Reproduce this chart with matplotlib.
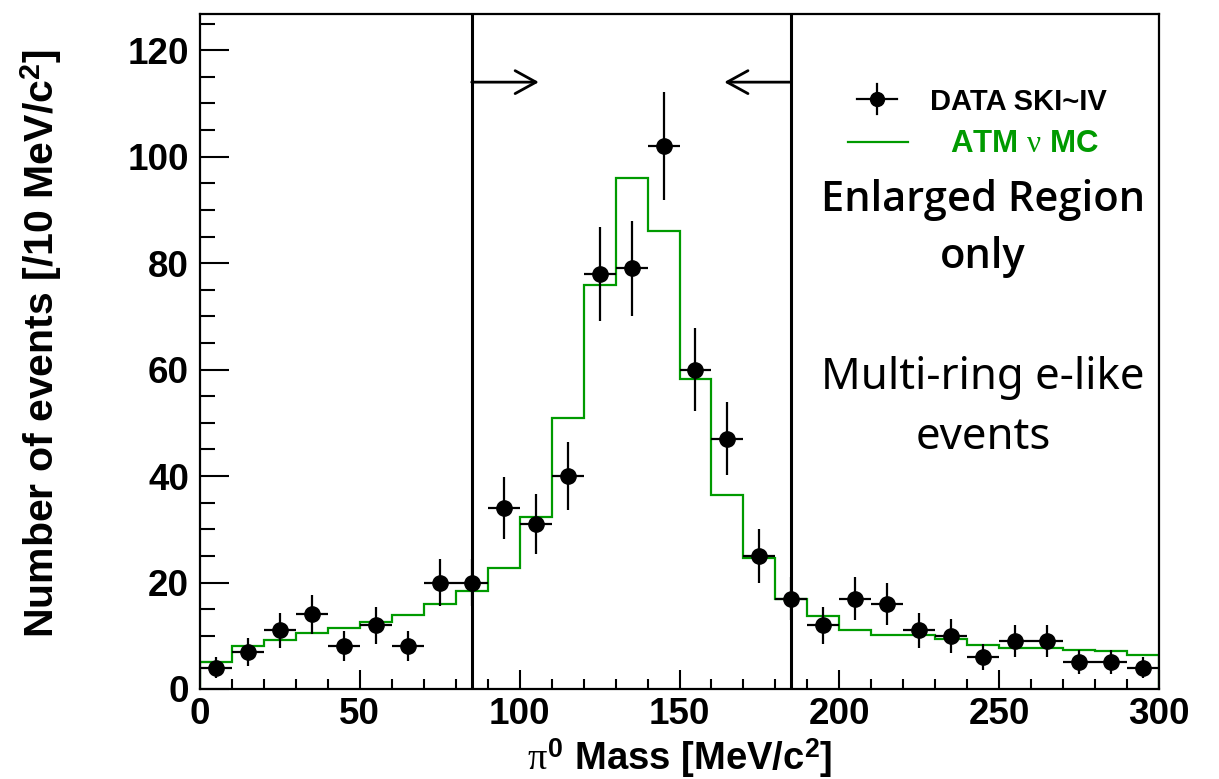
import numpy as np
import matplotlib
matplotlib.use("Agg")
import matplotlib.pyplot as plt
from matplotlib.lines import Line2D

# ---------------- data ----------------
bin_edges = list(range(0, 310, 10))
data_counts = [4, 7, 11, 14, 8, 12, 8, 20, 20, 34, 31, 40, 78, 79, 102,
               60, 47, 25, 17, 12, 17, 16, 11, 10, 6, 9, 9, 5, 5, 4]
mc_counts = [5.0, 8.0, 9.2, 10.5, 11.5, 12.5, 13.9, 16.0, 18.5, 22.7, 32.3,
             50.9, 75.9, 95.9, 86.1, 58.3, 36.5, 24.6, 16.9, 13.7, 11.1,
             10.15, 10.15, 9.46, 8.2, 7.7, 7.7, 7.3, 7.1, 6.4]
cut_low = 85
cut_high = 185
arrow_y = 114
arrow_len = 21

x_ticks = [0, 50, 100, 150, 200, 250, 300]
y_ticks = [0, 20, 40, 60, 80, 100, 120]

GREEN = "#009a00"

plt.rcParams["mathtext.fontset"] = "custom"
plt.rcParams["mathtext.rm"] = "Liberation Sans:bold"
plt.rcParams["mathtext.bf"] = "Liberation Sans:bold"
plt.rcParams["mathtext.it"] = "Liberation Serif"

fig = plt.figure(figsize=(12.19, 7.79), dpi=100)
ax = fig.add_axes([200 / 1219, 90 / 779, 959 / 1219, 675 / 779])

edges = np.array(bin_edges, dtype=float)
centers = 0.5 * (edges[:-1] + edges[1:])
half = 0.5 * np.diff(edges)
data = np.array(data_counts, dtype=float)
mc = np.array(mc_counts, dtype=float)

# MC histogram
ax.stairs(mc, edges, color=GREEN, lw=1.6, zorder=2)

# data points
ax.errorbar(centers, data, xerr=half, yerr=np.sqrt(data), fmt="o",
            color="black", ms=11, elinewidth=1.6, capsize=0, zorder=3)

# cut lines
ax.axvline(cut_low, color="black", lw=2.2, zorder=4)
ax.axvline(cut_high, color="black", lw=2.2, zorder=4)
ap = dict(arrowstyle="->,head_length=1.0,head_width=0.55", lw=2.0,
          color="black", shrinkA=0, shrinkB=0, mutation_scale=15)
ax.annotate("", xy=(cut_low + arrow_len, arrow_y), xytext=(cut_low, arrow_y),
            arrowprops=ap)
ax.annotate("", xy=(cut_high - arrow_len, arrow_y), xytext=(cut_high, arrow_y),
            arrowprops=ap)

ax.set_xlim(0, 300)
ax.set_ylim(0, 126.8)
ax.set_xticks(x_ticks)
ax.set_yticks(y_ticks)
ax.set_xticks(np.arange(0, 301, 10), minor=True)
ax.set_yticks(np.arange(0, 127, 5), minor=True)
ax.tick_params(which="both", direction="in", width=1.5, top=False, right=False)
ax.tick_params(axis="y", which="major", length=21, pad=8)
ax.tick_params(axis="y", which="minor", length=10.5)
ax.tick_params(axis="x", which="major", length=14, pad=6)
ax.tick_params(axis="x", which="minor", length=7)
for lab in ax.get_xticklabels() + ax.get_yticklabels():
    lab.set_fontfamily("Liberation Sans")
    lab.set_fontweight("bold")
    lab.set_fontsize(26.5)
for sp in ax.spines.values():
    sp.set_linewidth(1.6)

ax.set_xlabel(r"$\pi^{0}$ Mass [MeV/c$^{2}$]", fontsize=27.5,
              fontweight="bold", family="Liberation Sans", labelpad=3)
ax.set_ylabel(r"Number of events [/10 MeV/c$^{2}$]", fontsize=29.5,
              fontweight="bold", family="Liberation Sans")
ax.yaxis.set_label_coords(-0.142, 0.512)

# legend (manual)
tr = ax.transAxes
ax.add_line(Line2D([0.706], [0.874], marker="o", ms=10, color="black", transform=tr))
ax.add_line(Line2D([0.685, 0.727], [0.874, 0.874], lw=1.6, color="black", transform=tr))
ax.add_line(Line2D([0.706, 0.706], [0.852, 0.896], lw=1.6, color="black", transform=tr))
ax.text(0.761, 0.869, "DATA SKI~IV", transform=tr, fontsize=21,
        fontweight="bold", family="Liberation Sans", va="center", ha="left")
ax.add_line(Line2D([0.676, 0.738], [0.810, 0.810], lw=1.6, color=GREEN, transform=tr))
ax.text(0.782, 0.808, r"ATM $\nu$ MC", transform=tr, fontsize=22.5,
        fontweight="bold", family="Liberation Sans", color=GREEN,
        va="center", ha="left")

ax.text(0.8165, 0.724, "Enlarged Region", transform=tr, fontsize=30,
        fontweight="semibold", family=["Open Sans", "Liberation Sans"], ha="center", va="center")
ax.text(0.8165, 0.6395, "only", transform=tr, fontsize=30,
        fontweight="semibold", family=["Open Sans", "Liberation Sans"], ha="center", va="center")
ax.text(0.8165, 0.461, "Multi-ring e-like", transform=tr, fontsize=31.5,
        family="Noto Sans", ha="center", va="center")
ax.text(0.8165, 0.372, "events", transform=tr, fontsize=31.5,
        family="Noto Sans", ha="center", va="center")

fig.savefig("out.png", dpi=100)
